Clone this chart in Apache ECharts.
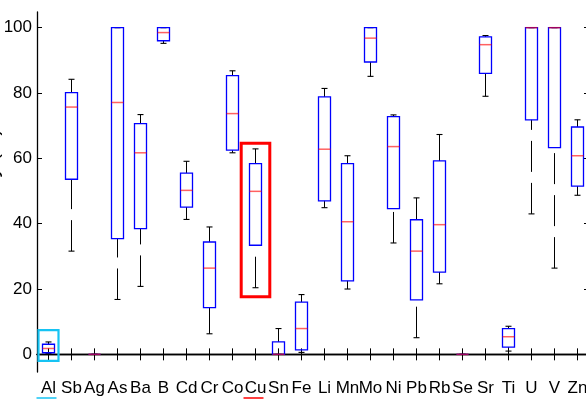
<!DOCTYPE html>
<html>
<head>
<meta charset="utf-8">
<style>
  html, body { margin: 0; padding: 0; background: #fff; }
  #chart { width: 586px; height: 399px; }
</style>
<script src="https://cdn.jsdelivr.net/npm/echarts@6/dist/echarts.min.js"></script>
</head>
<body>
<div id="chart"></div>
<script>
// Elements on the category axis
const categories = ['Al', 'Sb', 'Ag', 'As', 'Ba', 'B', 'Cd', 'Cr', 'Co', 'Cu', 'Sn', 'Fe',
                    'Li', 'Mn', 'Mo', 'Ni', 'Pb', 'Rb', 'Se', 'Sr', 'Ti', 'U', 'V', 'Zn'];

// Five-number summaries (%), one entry per element
const lowerWhisker  = [0.2, 31.6, 0, 16.8, 20.8, 95.2, 41.3, 6.3, 61.7, 20.4, 0, 0.6,
                       44.9, 20.0, 85.1, 34.1, 5.1, 21.6, 0, 79.0, 1.0, 43.0, 26.4, 48.7];
const lowerQuartile = [0.5, 53.6, 0, 35.4, 38.5, 96.0, 45.1, 14.3, 62.5, 33.4, 0, 1.4,
                       47.0, 22.5, 89.5, 44.6, 16.7, 25.2, 0, 86.0, 2.2, 71.8, 63.3, 51.5];
const medians       = [1.8, 75.7, 0, 77.1, 61.7, 98.5, 50.2, 26.4, 73.7, 49.9, 0, 7.9,
                       62.8, 40.6, 96.8, 63.6, 31.6, 39.7, 0, 94.8, 5.4, 100, 100, 60.8];
const upperQuartile = [3.1, 80.1, 0, 100, 70.6, 100, 55.5, 34.4, 85.3, 58.4, 3.8, 16.0,
                       78.8, 58.4, 100, 72.8, 41.2, 59.2, 0, 97.2, 7.9, 100, 100, 69.6];
const upperWhisker  = [3.8, 84.2, 0, 100, 73.4, 100, 59.1, 39.0, 86.8, 62.9, 7.9, 18.3,
                       81.4, 60.8, 100, 73.3, 47.9, 67.3, 0, 97.6, 8.6, 100, 100, 71.8];

// Value-axis ticks
const yTicks = [0, 20, 40, 60, 80, 100];

// Highlighted elements and the value span each highlight frame covers
const highlightCategories = ['Al', 'Cu'];
const highlightFrom = [-2.0, 17.6];
const highlightTo   = [7.4, 64.6];

// ---- styling ----
const FONT = '"Liberation Sans", Arial, Helvetica, sans-serif';
const BOX_WIDTH = 12;
const CAP_WIDTH = 6;
const highlightStyle = [
  { color: '#16c3f3', lineWidth: 2.2, halfWidth: 10 },
  { color: '#ff0000', lineWidth: 3, halfWidth: 14.3 }
];

const boxData = categories.map((c, i) => [
  i, lowerWhisker[i], lowerQuartile[i], medians[i], upperQuartile[i], upperWhisker[i]
]);

const highlightData = highlightCategories.map((c, k) => [
  categories.indexOf(c), highlightFrom[k], highlightTo[k], k
]);

function renderBox(params, api) {
  const i = api.value(0);
  const x = api.coord([i, 0])[0];
  const yLow = api.coord([i, api.value(1)])[1];
  const yQ1 = api.coord([i, api.value(2)])[1];
  const yMed = api.coord([i, api.value(3)])[1];
  const yQ3 = api.coord([i, api.value(4)])[1];
  const yHigh = api.coord([i, api.value(5)])[1];
  const half = BOX_WIDTH / 2;
  const cap = CAP_WIDTH / 2;
  // whiskers are dashed, drawn from the cap towards the box
  const whiskerStyle = { stroke: '#000', lineWidth: 1, lineDash: [31, 11], fill: null };
  const capStyle = { stroke: '#000', lineWidth: 1.1, fill: null };
  return {
    type: 'group',
    children: [
      { type: 'line', shape: { x1: x, y1: yLow, x2: x, y2: yQ1 }, style: whiskerStyle },
      { type: 'line', shape: { x1: x, y1: yHigh, x2: x, y2: yQ3 }, style: whiskerStyle },
      { type: 'line', shape: { x1: x - cap, y1: yLow, x2: x + cap, y2: yLow }, style: capStyle },
      { type: 'line', shape: { x1: x - cap, y1: yHigh, x2: x + cap, y2: yHigh }, style: capStyle },
      {
        type: 'rect',
        shape: { x: x - half, y: yQ3, width: BOX_WIDTH, height: yQ1 - yQ3 },
        style: { fill: 'transparent', stroke: '#0000ff', lineWidth: 1.3 }
      },
      {
        type: 'line',
        shape: { x1: x - half, y1: yMed, x2: x + half, y2: yMed },
        style: { stroke: 'rgba(255,0,0,0.62)', lineWidth: 1.5, fill: null }
      }
    ]
  };
}

function renderHighlight(params, api) {
  const i = api.value(0);
  const st = highlightStyle[api.value(3)];
  const x = api.coord([i, 0])[0];
  const yTop = api.coord([i, api.value(2)])[1];
  const yBottom = api.coord([i, api.value(1)])[1];
  const cs = params.coordSys;
  const underlineY = cs.y + cs.height + 26;
  return {
    type: 'group',
    children: [
      {
        type: 'rect',
        shape: { x: x - st.halfWidth, y: yTop, width: st.halfWidth * 2, height: yBottom - yTop },
        style: { fill: 'transparent', stroke: st.color, lineWidth: st.lineWidth }
      },
      {
        type: 'line',
        shape: { x1: x - 12, y1: underlineY, x2: x + 8, y2: underlineY },
        style: { stroke: st.color, lineWidth: 1.5, fill: null }
      }
    ]
  };
}

const axisLineStyle = { color: '#000', width: 1.3 };

const chart = echarts.init(document.getElementById('chart'), null, { renderer: 'canvas' });

chart.setOption({
  animation: false,
  backgroundColor: '#fff',
  grid: { left: 37, top: 12, width: 552, height: 360, containLabel: false, outerBoundsMode: 'none' },
  xAxis: [
    {
      type: 'category',
      data: categories,
      position: 'bottom',
      boundaryGap: true,
      axisLine: { show: true, lineStyle: axisLineStyle },
      axisTick: { show: true, alignWithLabel: true, inside: true, length: 6, lineStyle: { color: '#000', width: 1 } },
      axisLabel: { interval: 0, color: '#000', fontSize: 17, fontFamily: FONT, margin: 8 },
      splitLine: { show: false }
    },
    {
      type: 'category',
      data: categories,
      position: 'top',
      boundaryGap: true,
      axisLine: { show: true, lineStyle: axisLineStyle },
      axisTick: { show: true, alignWithLabel: true, inside: true, length: 6, lineStyle: { color: '#000', width: 1 } },
      axisLabel: { show: false },
      splitLine: { show: false }
    }
  ],
  yAxis: [
    {
      type: 'value',
      position: 'left',
      min: -5.4,
      max: 104.8,
      name: 'Recovery (%)',
      nameLocation: 'middle',
      nameRotate: 90,
      nameGap: 34,
      nameMoveOverlap: false,
      nameTextStyle: { color: '#000', fontSize: 21, fontFamily: FONT },
      axisLine: { show: true, lineStyle: axisLineStyle },
      axisTick: { show: true, inside: true, length: 5, customValues: yTicks, lineStyle: { color: '#000', width: 1 } },
      axisLabel: { customValues: yTicks, color: '#000', fontSize: 17, fontFamily: FONT, margin: 5 },
      splitLine: { show: false }
    },
    {
      type: 'value',
      position: 'right',
      min: -5.4,
      max: 104.8,
      axisLine: { show: true, lineStyle: axisLineStyle },
      axisTick: { show: true, inside: true, length: 5, customValues: yTicks, lineStyle: { color: '#000', width: 1 } },
      axisLabel: { show: false },
      splitLine: { show: false }
    }
  ],
  series: [
    {
      type: 'custom',
      name: 'boxes',
      xAxisIndex: 0,
      yAxisIndex: 0,
      renderItem: renderBox,
      encode: { x: 0, y: [1, 2, 3, 4, 5] },
      data: boxData,
      z: 3
    },
    {
      type: 'custom',
      name: 'highlights',
      xAxisIndex: 0,
      yAxisIndex: 0,
      renderItem: renderHighlight,
      encode: { x: 0, y: [1, 2] },
      data: highlightData,
      clip: false,
      z: 4
    }
  ]
});
</script>
</body>
</html>
